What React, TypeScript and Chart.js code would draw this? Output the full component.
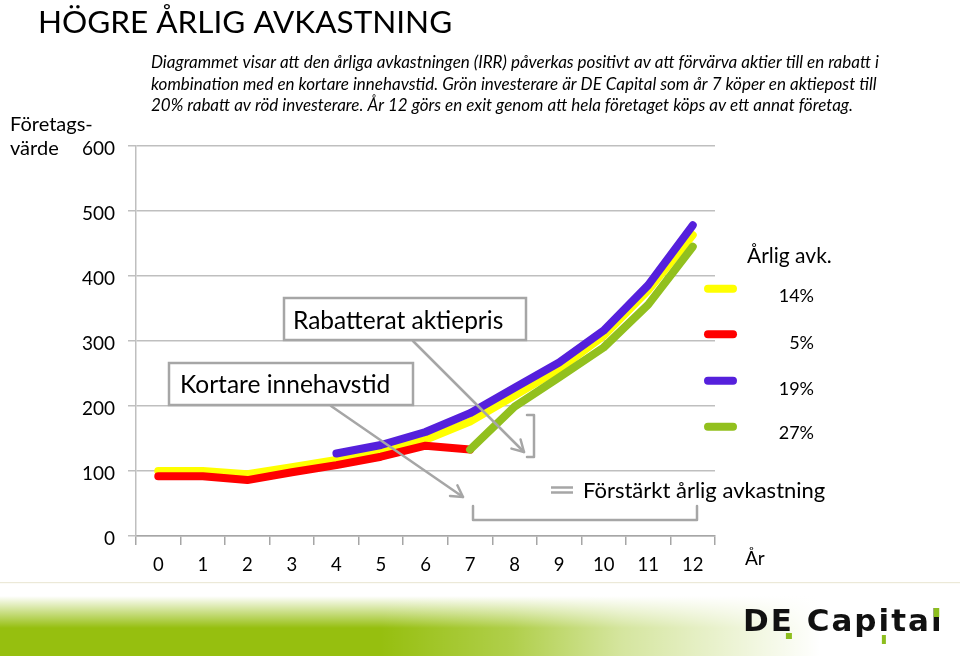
import React, { useEffect, useRef } from "react";
import { Chart, registerables } from "chart.js";

Chart.register(...registerables);

// ---------- data ----------
const years = ["0", "1", "2", "3", "4", "5", "6", "7", "8", "9", "10", "11", "12"];
const yellowValues = [100, 100, 95, 106, 117, 130, 148, 176, 216, 257, 308, 378, 463];
const redValues = [92, 92, 86, 98, 109, 122, 139, 133, null, null, null, null, null];
const purpleValues = [null, null, null, null, 127, 140, 160, 189, 228, 267, 316, 386, 478];
const greenValues = [null, null, null, null, null, null, null, 133, 199, 244, 290, 356, 445];
const seriesColors = ["#FFFF00", "#FF0000", "#5520DC", "#92C01E"];
const seriesReturns = ["14%", "5%", "19%", "27%"];
const yMin = 0;
const yMax = 600;
const yStep = 100;

// ---------- texts ----------
const titleText = "HÖGRE ÅRLIG AVKASTNING";
const subtitleLines = [
  "Diagrammet visar att den årliga avkastningen (IRR) påverkas positivt av att förvärva aktier till en rabatt i",
  "kombination med en kortare innehavstid. Grön investerare är DE Capital som år 7 köper en aktiepost till",
  "20% rabatt av röd investerare. År 12 görs en exit genom att hela företaget köps av ett annat företag.",
];
const yAxisTitle = ["Företags-", "värde"];
const xAxisTitle = "År";
const legendTitle = "Årlig avk.";
const noteDiscount = "Rabatterat aktiepris";
const noteShorter = "Kortare innehavstid";
const resultText = "Förstärkt årlig avkastning";
const logoText = "DE Capital";

const FONT = "Lato";
const GRAY = "#A6A6A6";

function drawArrow(ctx: CanvasRenderingContext2D, x1: number, y1: number, x2: number, y2: number) {
  ctx.beginPath();
  ctx.moveTo(x1, y1);
  ctx.lineTo(x2, y2);
  ctx.stroke();
  const a = Math.atan2(y2 - y1, x2 - x1);
  const L = 13;
  const s = 0.52;
  ctx.beginPath();
  ctx.moveTo(x2 - L * Math.cos(a - s), y2 - L * Math.sin(a - s));
  ctx.lineTo(x2, y2);
  ctx.lineTo(x2 - L * Math.cos(a + s), y2 - L * Math.sin(a + s));
  ctx.stroke();
}

const decorPlugin = {
  id: "decor",
  beforeDraw(chart: any) {
    const ctx: CanvasRenderingContext2D = chart.ctx;
    ctx.save();
    ctx.fillStyle = "#FFFFFF";
    ctx.fillRect(0, 0, chart.width, chart.height);
    // bottom band
    ctx.fillStyle = "#ECE9D8";
    ctx.fillRect(0, 582, chart.width, 1.2);
    const g = ctx.createLinearGradient(0, 596, 0, 628);
    g.addColorStop(0, "rgba(150,191,15,0)");
    g.addColorStop(1, "rgba(150,191,15,1)");
    ctx.fillStyle = g;
    ctx.fillRect(0, 596, chart.width, 60);
    const h = ctx.createLinearGradient(380, 0, 820, 0);
    h.addColorStop(0, "rgba(255,255,255,0)");
    h.addColorStop(0.3, "rgba(255,255,255,0.25)");
    h.addColorStop(0.55, "rgba(255,255,255,0.6)");
    h.addColorStop(1, "rgba(255,255,255,1)");
    ctx.fillStyle = h;
    ctx.fillRect(380, 584, chart.width - 380, 72);
    ctx.restore();
  },
  afterDraw(chart: any) {
    const ctx: CanvasRenderingContext2D = chart.ctx;
    ctx.save();
    ctx.textBaseline = "alphabetic";
    ctx.fillStyle = "#000";

    // title
    ctx.textAlign = "left";
    ctx.font = `31.5px ${FONT}`;
    ctx.fillText(titleText, 38, 33);

    // subtitle
    ctx.font = `italic 17px ${FONT}`;
    subtitleLines.forEach((line, i) => ctx.fillText(line, 151, 68 + i * 21.5));

    // y axis title
    ctx.font = `20px ${FONT}`;
    ctx.fillText(yAxisTitle[0], 10, 131);
    ctx.fillText(yAxisTitle[1], 10, 155);

    // x axis title
    ctx.font = `19px ${FONT}`;
    ctx.fillText(xAxisTitle, 745, 565);

    // legend
    ctx.font = `21px ${FONT}`;
    ctx.fillText(legendTitle, 747, 263);
    const legendYs = [288.7, 334.3, 380.7, 426.7];
    const textYs = [302, 349, 395, 439];
    ctx.lineCap = "round";
    seriesColors.forEach((c, i) => {
      ctx.strokeStyle = c;
      ctx.lineWidth = 8;
      ctx.beginPath();
      ctx.moveTo(708, legendYs[i]);
      ctx.lineTo(733, legendYs[i]);
      ctx.stroke();
    });
    ctx.font = `18px ${FONT}`;
    ctx.textAlign = "right";
    seriesReturns.forEach((t, i) => ctx.fillText(t, 814, textYs[i]));
    ctx.textAlign = "left";

    // annotation arrows
    ctx.strokeStyle = GRAY;
    ctx.lineWidth = 2.5;
    ctx.lineCap = "round";
    ctx.lineJoin = "round";
    drawArrow(ctx, 413, 341, 524, 452);
    drawArrow(ctx, 331, 406, 463, 497);

    // boxes
    const boxes: [string, number, number, number, number, number, number][] = [
      [noteDiscount, 284, 298, 242, 42, 293, 329],
      [noteShorter, 169, 363, 244, 42, 180, 393],
    ];
    boxes.forEach(([t, x, y, w, hh, tx, ty]) => {
      ctx.fillStyle = "#FFFFFF";
      ctx.fillRect(x, y, w, hh);
      ctx.strokeStyle = GRAY;
      ctx.lineWidth = 2.5;
      ctx.lineCap = "butt";
      ctx.lineJoin = "miter";
      ctx.strokeRect(x, y, w, hh);
      ctx.fillStyle = "#000";
      ctx.font = `24.5px ${FONT}`;
      ctx.fillText(t, tx, ty);
    });

    // brackets
    ctx.strokeStyle = GRAY;
    ctx.lineWidth = 2.5;
    ctx.lineCap = "round";
    ctx.lineJoin = "round";
    ctx.beginPath();
    ctx.moveTo(527, 415);
    ctx.lineTo(534, 415);
    ctx.lineTo(534, 457);
    ctx.lineTo(527, 457);
    ctx.stroke();
    ctx.beginPath();
    ctx.moveTo(473, 506);
    ctx.lineTo(473, 520);
    ctx.lineTo(697, 520);
    ctx.lineTo(697, 506);
    ctx.stroke();

    // equals sign + result text
    ctx.lineWidth = 2.5;
    ctx.lineCap = "butt";
    ctx.beginPath();
    ctx.moveTo(551, 487.5);
    ctx.lineTo(573, 487.5);
    ctx.moveTo(551, 492.5);
    ctx.lineTo(573, 492.5);
    ctx.stroke();
    ctx.fillStyle = "#000";
    ctx.font = `22px ${FONT}`;
    ctx.fillText(resultText, 583, 498);

    // logo
    ctx.font = `bold 31px "DejaVu Sans"`;
    (ctx as any).letterSpacing = "2px";
    const lx = 743;
    const lb = 631;
    ctx.fillStyle = "#111";
    ctx.fillText(logoText, lx, lb);
    ctx.fillStyle = "#8DBE1E";
    const wDE = ctx.measureText("DE").width;
    ctx.fillRect(lx + wDE - 8, lb + 2, 6, 6);
    const wCapi = ctx.measureText("DE Capi").width;
    const wI = ctx.measureText("i").width;
    ctx.fillRect(lx + wCapi - wI / 2 - 3, lb + 4, 4, 9);
    const wCapita = ctx.measureText("DE Capita").width;
    const wl = ctx.measureText("l").width;
    ctx.fillRect(lx + wCapita + wl / 2 - 3.5, lb - 23, 5.5, 9);
    (ctx as any).letterSpacing = "0px";

    ctx.restore();
  },
};

export default function App() {
  const canvasRef = useRef<HTMLCanvasElement | null>(null);

  useEffect(() => {
    document.body.style.margin = "0";
    const canvas = canvasRef.current;
    if (!canvas) return;
    Chart.defaults.font.family = FONT;
    const chart = new Chart(canvas, {
      type: "line",
      data: {
        labels: years,
        datasets: [
          { label: "Gul", data: yellowValues, borderColor: seriesColors[0], backgroundColor: seriesColors[0], order: 3 },
          { label: "Röd", data: redValues, borderColor: seriesColors[1], backgroundColor: seriesColors[1], order: 2 },
          { label: "Lila", data: purpleValues, borderColor: seriesColors[2], backgroundColor: seriesColors[2], order: 1 },
          { label: "Grön", data: greenValues, borderColor: seriesColors[3], backgroundColor: seriesColors[3], order: 0 },
        ],
      },
      options: {
        animation: false,
        responsive: false,
        maintainAspectRatio: false,
        events: [],
        spanGaps: false,
        layout: { padding: { left: 0, top: 146, right: 245, bottom: 0 } },
        elements: {
          line: { borderWidth: 8, borderCapStyle: "round", borderJoinStyle: "round", tension: 0 },
          point: { radius: 0, hoverRadius: 0 },
        },
        plugins: { legend: { display: false }, tooltip: { enabled: false }, title: { display: false } },
        scales: {
          x: {
            type: "category",
            offset: true,
            grid: { offset: true, drawOnChartArea: false, drawTicks: true, tickLength: 9, color: GRAY, lineWidth: 1.5 },
            border: { color: GRAY, width: 1.5 },
            ticks: { color: "#000", font: { size: 18.5, family: FONT }, padding: 9, maxRotation: 0, autoSkip: false },
            afterFit: (s: any) => {
              s.height = 120;
            },
          },
          y: {
            min: yMin,
            max: yMax,
            grid: { color: "#BFBFBF", lineWidth: 1.5, tickLength: 8 },
            border: { color: "#BFBFBF", width: 1.5 },
            ticks: { stepSize: yStep, color: "#000", font: { size: 19, family: FONT }, padding: 13, labelOffset: 3 },
            afterFit: (s: any) => {
              s.width = 136;
            },
          },
        },
      },
      plugins: [decorPlugin],
    } as any);
    return () => chart.destroy();
  }, []);

  return (
    <div style={{ position: "relative", width: 960, height: 656 }}>
      <canvas ref={canvasRef} width={960} height={656} style={{ width: 960, height: 656, display: "block" }} />
    </div>
  );
}
